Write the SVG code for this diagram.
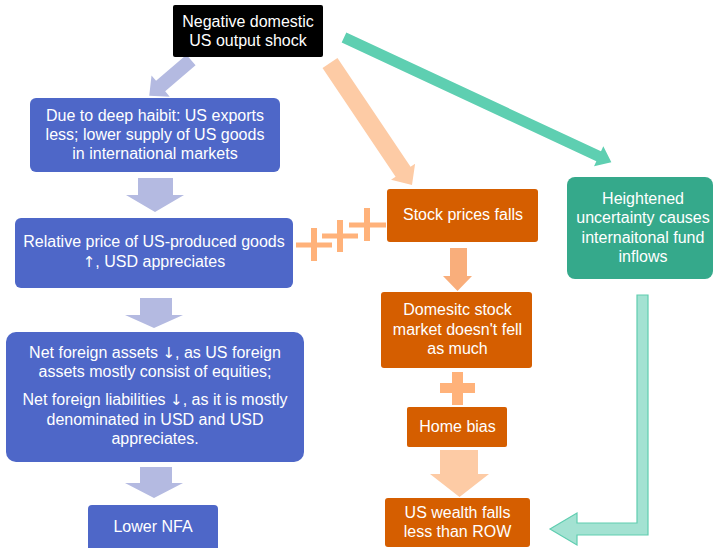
<svg xmlns="http://www.w3.org/2000/svg" width="714" height="548" viewBox="0 0 714 548">
<style>
text{font-family:"Liberation Sans",Arial,sans-serif;font-size:16px;fill:#fff;text-anchor:middle}
.arr{font-family:"DejaVu Sans",sans-serif;font-size:15px}
.blue{fill:#4e67c8}
.orange{fill:#d55e00}
.green{fill:#35a98b}
.ab{fill:#b4bae1}
.ao{fill:#fdcba5}
.am{fill:#f9ae7b}
.ag{fill:#5ecfb1}
.plus{fill:#ffb27a}
</style>
<rect width="714" height="548" fill="#fff"/>
<g id="connectors">
<path class="ab" d="M0,-7 L40,-7 L40,-14 L55,0 L40,14 L40,7 L0,7 Z" transform="translate(191,60) rotate(139.4)"/>
<path class="ao" d="M0,-9 L131,-9 L131,-14.5 L147,0 L131,14.5 L131,9 L0,9 Z" transform="translate(330,63) rotate(56.1)"/>
<path class="ag" d="M0,-5.5 L281,-5.5 L281,-11 L295,0 L281,11 L281,5.5 L0,5.5 Z" transform="translate(344,37.5) rotate(25)"/>
<path class="ab" d="M138,178 L173,178 L173,195 L184,195 L155,212 L126,195 L138,195 Z"/>
<path class="ab" d="M140,298 L172,298 L172,315 L183,315 L154,328 L125,315 L140,315 Z"/>
<path class="ab" d="M140,467 L172,467 L172,483 L183,483 L154,498 L125,483 L140,483 Z"/>
<path class="am" d="M450,248 L467,248 L467,276 L472,276 L457.5,291 L443,276 L450,276 Z"/>
<path class="ao" d="M440,450 L478,450 L478,474 L489,474 L459.5,497 L430,474 L440,474 Z"/>
<path d="M637,295 L648,295 L648,535 L577,535 L577,545 L550,529 L577,513 L577,523 L637,523 Z" fill="#a3e2d2" stroke="#60cdb0" stroke-width="1.2"/>
<g class="plus">
<rect x="296" y="242.5" width="36" height="5"/><rect x="311" y="228" width="6" height="33"/>
<rect x="322" y="233.5" width="36" height="5"/><rect x="337" y="220" width="6" height="32"/>
<rect x="349" y="222.5" width="37" height="5"/><rect x="364" y="208" width="6" height="33"/>
<rect x="440" y="383" width="35" height="10"/><rect x="452" y="372" width="11" height="33"/>
</g>
</g>
<g id="shock">
<rect x="173" y="5" width="150" height="52" rx="2" fill="#000"/>
<text x="248" y="27">Negative domestic</text>
<text x="248" y="46">US output shock</text>
</g>
<g id="exports">
<rect class="blue" x="30" y="98" width="250" height="74" rx="6"/>
<text x="155" y="121">Due to deep haibit: US exports</text>
<text x="155" y="140">less; lower supply of US goods</text>
<text x="155" y="159">in international markets</text>
</g>
<g id="relprice">
<rect class="blue" x="15" y="218" width="278" height="70" rx="6"/>
<text x="154" y="247">Relative price of US-produced goods</text>
<text x="154" y="267"><tspan class="arr">↑</tspan>, USD appreciates</text>
</g>
<g id="nfa">
<rect class="blue" x="6" y="332" width="298" height="130" rx="10"/>
<text x="155" y="358">Net foreign assets <tspan class="arr">↓</tspan>, as US foreign</text>
<text x="155" y="377">assets mostly consist of equities;</text>
<text x="155" y="405">Net foreign liabilities <tspan class="arr">↓</tspan>, as it is mostly</text>
<text x="155" y="425">denominated in USD and USD</text>
<text x="155" y="444">appreciates.</text>
</g>
<g id="lowernfa">
<rect class="blue" x="88" y="505" width="130" height="46" rx="4"/>
<text x="153" y="532">Lower NFA</text>
</g>
<g id="stock">
<rect class="orange" x="387" y="189" width="151" height="53" rx="3"/>
<text x="463" y="220">Stock prices falls</text>
</g>
<g id="domestic">
<rect class="orange" x="381" y="292" width="151" height="76" rx="3"/>
<text x="457.5" y="315">Domesitc stock</text>
<text x="457.5" y="335">market doesn't fell</text>
<text x="457.5" y="354">as much</text>
</g>
<g id="homebias">
<rect class="orange" x="407" y="407" width="100" height="40" rx="2"/>
<text x="457.5" y="432">Home bias</text>
</g>
<g id="wealth">
<rect class="orange" x="385" y="498" width="145" height="49" rx="3"/>
<text x="457.5" y="518">US wealth falls</text>
<text x="457.5" y="537">less than ROW</text>
</g>
<g id="uncertainty">
<rect class="green" x="567" y="177" width="146" height="102" rx="8"/>
<text x="643" y="204">Heightened</text>
<text x="643" y="223">uncertainty causes</text>
<text x="643" y="243">internaitonal fund</text>
<text x="643" y="262">inflows</text>
</g>
</svg>
